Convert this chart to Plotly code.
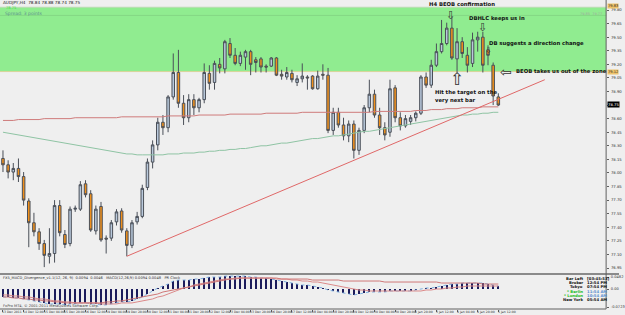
import plotly.graph_objects as go

W, H = 625, 315
def px(x): return x / W
def py(y): return 1 - y / H

# ---------------- data ----------------
bars = list(range(97))
opens = [78.16, 78.09, 78.01, 78.05, 77.96, 77.69, 77.45, 77.35, 77.22, 77.08,
         77.11, 77.64, 77.32, 77.22, 77.60, 77.60, 77.88, 77.77, 77.36, 77.63,
         77.28, 77.28, 77.46, 77.58, 77.36, 77.20, 77.46, 77.52, 77.84, 78.12,
         78.31, 78.56, 78.50, 78.84, 79.11, 78.77, 78.61, 78.81, 78.72, 78.81,
         79.10, 79.00, 79.20, 79.15, 79.43, 79.30, 79.21, 79.28, 79.34, 79.25,
         79.26, 79.18, 79.18, 79.27, 79.09, 79.06, 79.10, 79.00, 79.04, 79.06,
         79.07, 78.93, 79.09, 79.08, 78.47, 78.67, 78.53, 78.41, 78.54, 78.25,
         78.47, 78.72, 78.87, 78.64, 78.50, 78.45, 78.94, 78.61, 78.52, 78.57,
         78.61, 78.66, 79.06, 78.97, 79.19, 79.34, 79.43, 79.60, 79.26, 79.45,
         79.30, 79.21, 79.47, 79.50, 79.36, 79.19, 78.84]
highs = [78.25, 78.14, 78.11, 78.16, 78.01, 77.72, 77.56, 77.39, 77.26, 77.39,
         77.70, 77.70, 77.37, 77.63, 77.64, 77.91, 77.92, 77.81, 77.64, 77.68,
         77.31, 77.48, 77.60, 77.61, 77.39, 77.48, 77.57, 77.87, 78.16, 78.36,
         78.61, 78.64, 78.86, 79.32, 79.36, 78.86, 78.87, 78.87, 78.83, 79.21,
         79.19, 79.24, 79.27, 79.47, 79.49, 79.38, 79.34, 79.36, 79.36, 79.28,
         79.28, 79.20, 79.28, 79.28, 79.14, 79.17, 79.14, 79.08, 79.21, 79.08,
         79.08, 79.13, 79.20, 79.16, 78.72, 78.72, 78.61, 78.58, 78.58, 78.50,
         78.75, 79.03, 78.92, 78.72, 78.56, 79.03, 78.97, 78.67, 78.64, 78.64,
         78.68, 79.08, 79.11, 79.25, 79.43, 79.69, 79.66, 79.72, 79.60, 79.50,
         79.39, 79.55, 79.56, 79.56, 79.41, 79.22, 78.88]
lows = [78.01, 77.94, 77.92, 77.90, 77.64, 77.18, 77.30, 77.15, 76.96, 77.00,
        77.01, 77.30, 77.17, 77.19, 77.57, 77.58, 77.73, 77.35, 77.32, 77.24,
        77.11, 77.25, 77.42, 77.34, 77.08, 77.17, 77.43, 77.50, 77.81, 78.05,
        78.25, 78.42, 78.45, 78.81, 78.72, 78.53, 78.56, 78.64, 78.67, 78.77,
        78.92, 78.92, 79.10, 79.10, 79.27, 79.19, 79.18, 79.14, 79.08, 79.11,
        79.11, 79.11, 79.17, 79.07, 79.03, 79.03, 79.00, 78.96, 79.00, 78.92,
        78.92, 78.92, 79.03, 78.44, 78.42, 78.50, 78.36, 78.34, 78.16, 78.20,
        78.44, 78.67, 78.61, 78.42, 78.36, 78.40, 78.56, 78.47, 78.50, 78.53,
        78.57, 78.64, 78.94, 78.94, 79.17, 79.32, 79.41, 79.25, 79.11, 79.27,
        79.11, 79.17, 79.34, 79.11, 79.19, 78.75, 78.74]
closes = [78.09, 78.01, 78.05, 77.96, 77.70, 77.45, 77.35, 77.22, 77.09, 77.11,
          77.64, 77.34, 77.21, 77.60, 77.61, 77.87, 77.76, 77.37, 77.60, 77.26,
          77.27, 77.45, 77.57, 77.37, 77.20, 77.45, 77.52, 77.83, 78.12, 78.31,
          78.56, 78.50, 78.84, 79.11, 78.77, 78.61, 78.81, 78.72, 78.81, 79.11,
          78.99, 79.21, 79.16, 79.45, 79.30, 79.21, 79.30, 79.34, 79.20, 79.22,
          79.17, 79.17, 79.27, 79.08, 79.07, 79.11, 79.03, 79.04, 79.07, 79.05,
          78.93, 79.07, 79.08, 78.47, 78.67, 78.53, 78.41, 78.54, 78.25, 78.47,
          78.72, 78.87, 78.64, 78.50, 78.42, 78.93, 78.61, 78.52, 78.60, 78.61,
          78.66, 79.06, 78.97, 79.19, 79.34, 79.43, 79.60, 79.27, 79.45, 79.32,
          79.19, 79.47, 79.50, 79.19, 79.30, 78.85, 78.75]

ma_slow = [78.58, 78.58, 78.58, 78.59, 78.59, 78.59, 78.59, 78.59, 78.60, 78.60,
           78.60, 78.60, 78.60, 78.60, 78.61, 78.61, 78.61, 78.61, 78.61, 78.61,
           78.61, 78.61, 78.61, 78.62, 78.62, 78.62, 78.62, 78.62, 78.62, 78.62,
           78.62, 78.62, 78.63, 78.63, 78.63, 78.63, 78.63, 78.63, 78.64, 78.64,
           78.64, 78.64, 78.64, 78.64, 78.65, 78.65, 78.65, 78.65, 78.65, 78.65,
           78.65, 78.66, 78.66, 78.66, 78.66, 78.66, 78.66, 78.66, 78.67, 78.67,
           78.67, 78.67, 78.67, 78.67, 78.67, 78.67, 78.67, 78.67, 78.67, 78.67,
           78.67, 78.67, 78.68, 78.68, 78.68, 78.68, 78.68, 78.68, 78.68, 78.68,
           78.69, 78.69, 78.69, 78.70, 78.70, 78.70, 78.71, 78.71, 78.71, 78.72,
           78.72, 78.72, 78.72, 78.73, 78.73, 78.73, 78.73]
ma_fast = [78.45, 78.44, 78.43, 78.42, 78.41, 78.40, 78.39, 78.38, 78.37, 78.36,
           78.35, 78.34, 78.33, 78.32, 78.31, 78.30, 78.29, 78.28, 78.27, 78.26,
           78.25, 78.24, 78.23, 78.22, 78.21, 78.21, 78.20, 78.20, 78.20, 78.20,
           78.20, 78.20, 78.21, 78.21, 78.21, 78.22, 78.22, 78.22, 78.23, 78.23,
           78.24, 78.24, 78.25, 78.25, 78.26, 78.26, 78.27, 78.27, 78.28, 78.29,
           78.30, 78.30, 78.31, 78.32, 78.33, 78.33, 78.34, 78.35, 78.36, 78.37,
           78.38, 78.38, 78.39, 78.40, 78.41, 78.41, 78.42, 78.43, 78.44, 78.45,
           78.46, 78.46, 78.47, 78.48, 78.49, 78.50, 78.51, 78.52, 78.53, 78.54,
           78.55, 78.56, 78.57, 78.58, 78.59, 78.60, 78.61, 78.62, 78.63, 78.64,
           78.64, 78.65, 78.65, 78.66, 78.66, 78.67, 78.67]

trend_bars = [24, 105]
trend_prices = [77.08, 79.03]

zone_top, zone_bottom = 79.83, 79.12
zone_line = 79.74
last_price = 78.75

macd = [-0.032, -0.032, -0.036, -0.036, -0.040, -0.044, -0.048, -0.052, -0.056, -0.060,
        -0.060, -0.060, -0.064, -0.060, -0.060, -0.056, -0.056, -0.060, -0.060, -0.064,
        -0.064, -0.060, -0.056, -0.052, -0.052, -0.048, -0.040, -0.032,
        -0.020, -0.008, 0.004, 0.012, 0.020, 0.032,
        0.036, 0.036, 0.036, 0.040, 0.040, 0.044, 0.048,
        0.048, 0.048, 0.052, 0.052, 0.052, 0.052, 0.052,
        0.048, 0.048, 0.044, 0.044, 0.040, 0.036, 0.032, 0.028, 0.024, 0.020,
        0.016, 0.016, 0.012, 0.008, 0.004, -0.004,
        -0.008, -0.012, -0.016, -0.020, -0.024, -0.020, -0.016, -0.012,
        -0.012, -0.012, -0.012, -0.008, -0.008, -0.008, -0.008, -0.008, -0.004,
        0.000, 0.004, 0.004,
        0.008, 0.012, 0.016, 0.020, 0.020, 0.024, 0.024, 0.024, 0.024, 0.024, 0.020, 0.016, 0.012]
signal = [-0.024, -0.024, -0.028, -0.028, -0.032, -0.032, -0.036, -0.040, -0.040, -0.044,
          -0.048, -0.048, -0.052, -0.052, -0.056, -0.056, -0.056, -0.056, -0.056, -0.060,
          -0.060, -0.060, -0.060, -0.056, -0.056, -0.056, -0.052, -0.048,
          -0.044, -0.040, -0.032, -0.028, -0.020, -0.012,
          -0.004, 0.004, 0.008, 0.016, 0.020, 0.024, 0.028,
          0.032, 0.036, 0.040, 0.040, 0.044, 0.044, 0.044,
          0.044, 0.044, 0.044, 0.044, 0.044, 0.040, 0.040, 0.040, 0.036, 0.036,
          0.032, 0.032, 0.028, 0.028, 0.024, 0.020,
          0.016, 0.012, 0.008, 0.004, 0.000, -0.004, -0.004, -0.008,
          -0.008, -0.008, -0.008, -0.008, -0.008, -0.008, -0.008, -0.008, -0.008,
          -0.008, -0.004, -0.004, 0.000, 0.000, 0.004, 0.004, 0.008, 0.008, 0.012,
          0.012, 0.012, 0.012, 0.012, 0.012, 0.012]
slow_line = [-0.032, -0.032, -0.036, -0.036, -0.040, -0.040, -0.044, -0.044, -0.048, -0.048,
             -0.052, -0.052, -0.056, -0.056, -0.056, -0.056, -0.056, -0.056, -0.056, -0.056,
             -0.052, -0.052, -0.048, -0.048, -0.044, -0.040, -0.036, -0.032,
             -0.028, -0.024, -0.020, -0.012, -0.008, -0.004,
             0.000, 0.004, 0.008, 0.012, 0.016, 0.020, 0.024,
             0.028, 0.032, 0.036, 0.040, 0.040, 0.044, 0.044,
             0.044, 0.044, 0.044, 0.044, 0.044, 0.044, 0.040, 0.040, 0.040, 0.040,
             0.040, 0.040, 0.036, 0.036, 0.036, 0.036,
             0.036, 0.036, 0.032, 0.032, 0.032, 0.032, 0.032, 0.032,
             0.032, 0.032, 0.028, 0.028, 0.028, 0.028, 0.028, 0.028, 0.028,
             0.028, 0.028, 0.028, 0.028, 0.024, 0.024, 0.024, 0.024, 0.024, 0.024,
             0.024, 0.024, 0.020, 0.020, 0.020, 0.020]

price_ticks = [79.80, 79.65, 79.50, 79.35, 79.20, 79.05, 78.90, 78.75, 78.60, 78.45,
               78.30, 78.15, 78.00, 77.85, 77.70, 77.55, 77.40, 77.25, 77.10, 76.95]
macd_ticks = [0.0482, 0.0, -0.0723]
macd_tick_text = ["0.0482", "0.00", "-0.0723"]

time_label_bars = [0, 4, 8, 12, 16, 20, 24, 28, 32, 36, 40, 44, 48, 52, 56, 60,
                   64, 68, 72, 76, 80, 84, 88, 92, 96]
time_labels = ["13 Dec 2011", "14 Dec 12:00", "15 Dec 04:00", "15 Dec 20:00", "16 Dec 12:00",
               "19 Dec 04:00", "19 Dec 20:00", "20 Dec 12:00", "21 Dec 04:00", "21 Dec 20:00",
               "22 Dec 12:00", "23 Dec 04:00", "23 Dec 20:00", "26 Dec 20:00", "27 Dec 12:00",
               "28 Dec 04:00", "28 Dec 20:00", "29 Dec 12:00", "30 Dec 04:00", "30 Dec 20:00",
               "2 Jan 20:00", "3 Jan 12:00", "4 Jan 04:00", "4 Jan 20:00", "5 Jan 12:00"]

clock_names = ["Bar Left", "Broker", "Tokyo", "* Berlin", "* London", "New York"]
clock_times = ["[03:45:53]", "12:54 PM", "07:54 PM", "11:54 AM", "10:54 AM", "05:54 AM"]

# ---------------- styling / layout constants ----------------
BG = "#efefef"
PLOT_R = 612          # right edge of plotting area (px)
BAR_PX = 5.21         # pixels per bar
BAR0_PX = 3
x_lo = -BAR0_PX / BAR_PX
x_hi = (PLOT_R - BAR0_PX) / BAR_PX
P_PER_PX = 0.15 / 13.58
y_top_price = 79.80 + 10 * P_PER_PX
MAIN_BOTTOM_PX = 273
y_bot_price = y_top_price - MAIN_BOTTOM_PX * P_PER_PX
IND_TOP, IND_BOT, IND_ZERO = 275, 309, 289
V_PER_PX = 0.004017

fig = go.Figure()

fig.add_trace(go.Scatter(x=bars, y=ma_slow, mode="lines",
                         line=dict(color="#cf7b7b", width=1), hoverinfo="skip", showlegend=False))
fig.add_trace(go.Scatter(x=bars, y=ma_fast, mode="lines",
                         line=dict(color="#8fc4a4", width=1), hoverinfo="skip", showlegend=False))
fig.add_trace(go.Scatter(x=trend_bars, y=trend_prices, mode="lines",
                         line=dict(color="#e06868", width=1), hoverinfo="skip", showlegend=False))

fig.add_trace(go.Candlestick(
    x=bars, open=opens, high=highs, low=lows, close=closes,
    increasing=dict(fillcolor="#b9c9dc", line=dict(color="#4a4f58", width=1)),
    decreasing=dict(fillcolor="#f0901c", line=dict(color="#4a4f58", width=1)),
    whiskerwidth=0, showlegend=False, hoverinfo="skip"))

# indicator
fig.add_trace(go.Bar(x=bars, y=macd, width=0.22, marker=dict(color="#1c1c5c", line=dict(width=0)),
                     xaxis="x", yaxis="y2", showlegend=False, hoverinfo="skip"))
fig.add_trace(go.Scatter(x=bars, y=macd, mode="lines", line=dict(color="#7fb0e0", width=1, dash="dot"),
                         xaxis="x", yaxis="y2", showlegend=False, hoverinfo="skip"))
fig.add_trace(go.Scatter(x=bars, y=signal, mode="lines", line=dict(color="#dc8a8a", width=1),
                         xaxis="x", yaxis="y2", showlegend=False, hoverinfo="skip"))
fig.add_trace(go.Scatter(x=bars, y=slow_line, mode="lines", line=dict(color="#d07878", width=1),
                         xaxis="x", yaxis="y2", showlegend=False, hoverinfo="skip"))

shapes = [
    # supply zone
    dict(type="rect", xref="paper", yref="y", x0=0, x1=px(PLOT_R), y0=zone_bottom, y1=zone_top,
         fillcolor="#90ec90", line=dict(width=0), layer="below"),
    dict(type="line", xref="paper", yref="y", x0=0, x1=px(PLOT_R), y0=zone_bottom, y1=zone_bottom,
         line=dict(color="#d8d49a", width=1), layer="below"),
    dict(type="line", xref="paper", yref="y", x0=0, x1=px(PLOT_R), y0=zone_top, y1=zone_top,
         line=dict(color="#b8dcb0", width=1), layer="below"),
    dict(type="line", xref="paper", yref="y", x0=0, x1=px(PLOT_R), y0=zone_line, y1=zone_line,
         line=dict(color="#84d884", width=1), layer="below"),
    # window separators / frame
    dict(type="rect", xref="paper", yref="paper", x0=0, x1=1, y0=py(275), y1=py(273),
         fillcolor="#8a8a8a", line=dict(width=0)),
    dict(type="line", xref="paper", yref="paper", x0=0, x1=px(PLOT_R), y0=py(309), y1=py(309),
         line=dict(color="#606060", width=1)),
    dict(type="line", xref="paper", yref="paper", x0=px(PLOT_R), x1=px(PLOT_R), y0=py(309), y1=1,
         line=dict(color="#606060", width=1)),
]

ann = []
def txt(x, y, s, size=4, color="#000", xanchor="left", yanchor="middle", bold=False, bg=None, xref="paper"):
    ann.append(dict(x=x, y=y, xref=xref, yref="paper", text=("<b>%s</b>" % s) if bold else s,
                    showarrow=False, xanchor=xanchor, yanchor=yanchor,
                    font=dict(size=size, color=color, family="DejaVu Sans"),
                    bgcolor=bg, borderpad=0))

# header
txt(px(2), py(3), "AUDJPY,H4  78.84 78.88 78.74 78.75", size=4.2, color="#202020")
txt(px(5), py(7.5), "78.75", size=3.6, color="#33dd33")
txt(px(4), py(13.5), "Spread: 3 points", size=4.5, color="#5e8f8f")
txt(px(609), py(14), "79.85  79.77", size=3.5, color="#a0a8a0", xanchor="right")

# commentary
bc = "#111"
txt(px(466), py(4.5), "H4 BEOB confirmation", size=5.3, color=bc, xanchor="center", bold=True)
txt(px(502), py(18), "DBHLC keeps us in", size=5.3, color=bc, xanchor="center", bold=True)
txt(px(493), py(43.5), "DB suggests a direction change", size=5.3, color=bc, bold=True)
txt(px(520), py(71.5), "BEOB takes us out of the zone", size=5.3, color=bc, bold=True)
txt(px(438), py(92.5), "Hit the target on the", size=5.3, color=bc, bold=True)
txt(px(438), py(100.5), "very next bar", size=5.3, color=bc, bold=True)
# hollow block arrows
txt(px(455), py(15), "\u21e9", size=11, color="#333", xanchor="center")
txt(px(487), py(27.5), "\u21e9", size=11, color="#333", xanchor="center")
txt(px(493), py(50.5), "\u21e9", size=8, color="#333", xanchor="center")
txt(px(511), py(72), "\u21e6", size=14, color="#333", xanchor="center")
txt(px(461), py(78.5), "\u21e7", size=17, color="#333", xanchor="center")

# price axis highlights (they cover the regular tick labels, as in MT4)
txt(px(613), py(5.8), "79.83", size=3.6, color="#222", bg="#eec36a")
txt(px(613), py(72), "79.12", size=3.6, color="#222", bg="#eec36a")
txt(px(613), py(105), "78.75", size=3.8, color="#fff", bg="#000")

# indicator texts
txt(px(2), py(278), "FX5_MACD_Divergence_v1.1(12, 26, 9)  0.0094  0.0046   MACD(12,26,9) 0.0094 0.0048   PR Clock",
    size=3.6, color="#303030")
txt(px(2), py(305.5), "FxPro MT4, \u00a9 2001-2011 MetaQuotes Software Corp.", size=3.6, color="#404040")
for k, (n, t) in enumerate(zip(clock_names, clock_times)):
    yy = py(278.5 + 4.2 * k)
    special = n.startswith("*")
    txt(px(590), yy, n, size=3.8, color="#22bb22" if special else "#111", xanchor="right", bold=True)
    txt(px(592), yy, t, size=3.8, color="#5b8fd0" if special else "#111", bold=True)

# time axis labels
for b, lab in zip(time_label_bars, time_labels):
    txt(b - 0.3, py(312.3), lab, size=3.1, color="#303030", xref="x")

tick_text = ["" if abs(v - last_price) < 1e-9 else "%.2f" % v for v in price_ticks]

fig.update_layout(
    width=W, height=H, margin=dict(l=0, r=0, t=0, b=0),
    paper_bgcolor=BG, plot_bgcolor=BG, bargap=0,
    shapes=shapes, annotations=ann, showlegend=False,
    xaxis=dict(domain=[0, px(PLOT_R)], range=[x_lo, x_hi], anchor="y2",
               showgrid=False, zeroline=False, showticklabels=False,
               tickvals=time_label_bars, ticks="outside", ticklen=2, tickcolor="#606060",
               rangeslider=dict(visible=False), fixedrange=True),
    yaxis=dict(domain=[py(MAIN_BOTTOM_PX), 1], range=[y_bot_price, y_top_price], side="right",
               anchor="x", showgrid=False, zeroline=False, tickvals=price_ticks,
               ticktext=tick_text, ticks="outside", ticklen=2,
               tickcolor="#606060", tickfont=dict(size=3.8, color="#303030", family="DejaVu Sans"),
               ticklabelstandoff=1),
    yaxis2=dict(domain=[py(IND_BOT), py(IND_TOP)],
                range=[-(IND_BOT - IND_ZERO) * V_PER_PX, (IND_ZERO - IND_TOP) * V_PER_PX],
                side="right", anchor="x", showgrid=False, zeroline=False,
                tickvals=macd_ticks, ticktext=macd_tick_text, ticks="outside", ticklen=2,
                tickcolor="#606060", tickfont=dict(size=3.6, color="#303030", family="DejaVu Sans"),
                ticklabelstandoff=1),
)

fig.write_html("out.html")
